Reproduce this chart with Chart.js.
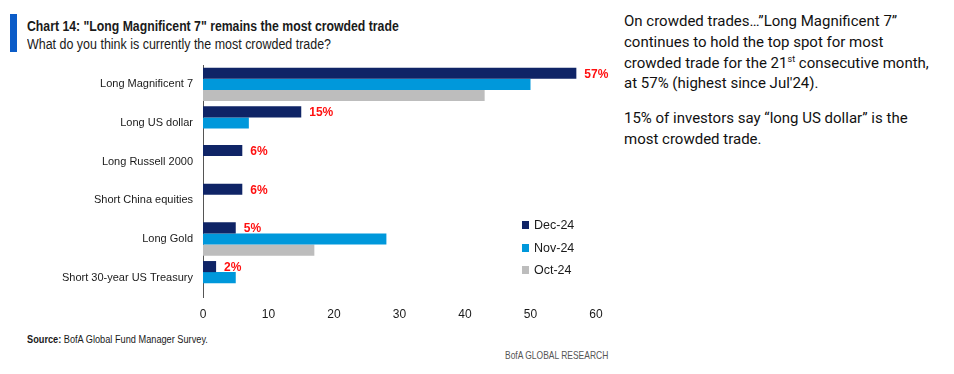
<!DOCTYPE html>
<html lang="en">
<head>
<meta charset="UTF-8">
<title>Long Magnificent 7 remains the most crowded trade</title>
<script src="https://cdn.jsdelivr.net/npm/chart.js"></script>
<style>
    body { margin: 0; background: #fff; }
    .page { position: relative; width: 954px; height: 374px; overflow: hidden;
            font-family: 'Liberation Sans', Arial, sans-serif; color: #1a1a1a; }
    .accent { position: absolute; left: 10px; top: 14px; width: 7px; height: 38px; background: #0b5cc8; }
    .squeeze { transform-origin: 0 0; white-space: nowrap; }
    .title { position: absolute; left: 27px; top: 18px; font-size: 14px; font-weight: bold; transform: scaleX(0.875); }
    .subtitle { position: absolute; left: 27px; top: 36px; font-size: 14px; transform: scaleX(0.89); }
    .chart-box { position: absolute; left: 0; top: 60px; width: 620px; height: 265px; }
    .legend { position: absolute; left: 522px; top: 214px; font-size: 12.5px; }
    .legend div { height: 22.5px; display: flex; align-items: center; }
    .legend span { display: inline-block; width: 7px; height: 8px; margin-right: 5px; }
    .source { position: absolute; left: 27px; top: 334px; font-size: 10px; transform: scaleX(0.92); }
    .brand { position: absolute; left: 505px; top: 349px; font-size: 11px; color: #555; transform: scaleX(0.77); }
    .notes { position: absolute; left: 624px; top: 11px; width: 330px; font-family: Roboto, sans-serif;
             font-size: 15px; line-height: 20.8px; color: #111; }
    .notes p { margin: 0 0 14px 0; }
    .notes sup { font-size: 9px; line-height: 0; vertical-align: 6px; }
</style>
</head>
<body>
<div class="page">
    <div class="accent"></div>
    <div class="title squeeze">Chart 14: "Long Magnificent 7" remains the most crowded trade</div>
    <div class="subtitle squeeze">What do you think is currently the most crowded trade?</div>
    <div class="chart-box"><canvas id="crowdedChart"></canvas></div>
    <div class="legend" id="legend"></div>
    <div class="source squeeze"><b>Source:</b> BofA Global Fund Manager Survey.</div>
    <div class="brand squeeze">BofA GLOBAL RESEARCH</div>
    <div class="notes">
        <p>On crowded trades…”Long Magnificent 7”<br>continues to hold the top spot for most<br>crowded trade for the 21<sup>st</sup> consecutive month,<br>at 57% (highest since Jul'24).</p>
        <p>15% of investors say “long US dollar” is the<br>most crowded trade.</p>
    </div>
</div>

<script>
const categories = ["Long Magnificent 7", "Long US dollar", "Long Russell 2000",
                    "Short China equities", "Long Gold", "Short 30-year US Treasury"];
const seriesNames = ["Dec-24", "Nov-24", "Oct-24"];
const dec24 = [57, 15, 6, 6, 5, 2];
const nov24 = [50, 7, null, null, 28, 5];
const oct24 = [43, null, null, null, 17, null];
const xTicks = [0, 10, 20, 30, 40, 50, 60];

const colors = ['#0f2466', '#0098db', '#bdbdbd'];
const fontFam = "'Liberation Sans', Arial, sans-serif";

// legend as html, vertical list at lower right of the plot
const legendEl = document.getElementById('legend');
seriesNames.forEach(function(name, i) {
    const row = document.createElement('div');
    row.innerHTML = '<span style="background:' + colors[i] + '"></span>' + name;
    legendEl.appendChild(row);
});

// red % labels next to the latest month
const latestLabels = {
    id: 'latestLabels',
    afterDatasetsDraw(chart) {
        const ctx = chart.ctx;
        const meta = chart.getDatasetMeta(0);
        ctx.save();
        ctx.fillStyle = '#ff1010';
        ctx.font = 'bold 12px ' + fontFam;
        ctx.textAlign = 'left';
        ctx.textBaseline = 'middle';
        meta.data.forEach(function(bar, i) {
            ctx.fillText(dec24[i] + '%', bar.x + 8, bar.y + 1);
        });
        ctx.restore();
    }
};

new Chart(document.getElementById('crowdedChart'), {
    type: 'bar',
    data: {
        labels: categories,
        datasets: [
            { label: seriesNames[0], data: dec24, backgroundColor: colors[0] },
            { label: seriesNames[1], data: nov24, backgroundColor: colors[1] },
            { label: seriesNames[2], data: oct24, backgroundColor: colors[2] }
        ]
    },
    options: {
        indexAxis: 'y',
        responsive: true,
        maintainAspectRatio: false,
        animation: false,
        barPercentage: 1.0,
        categoryPercentage: 0.86,
        layout: { padding: { left: 0, right: 24, top: 5, bottom: 0 } },
        scales: {
            y: {
                grid: { drawOnChartArea: false, drawTicks: false },
                border: { display: true, color: '#555', width: 1 },
                ticks: { color: '#1a1a1a', padding: 10, font: { family: fontFam, size: 11 } },
                afterFit: function(scale) {
                    scale.width = 203;
                    scale.paddingTop = 0;
                    scale.paddingBottom = 0;
                }
            },
            x: {
                min: 0, max: 60,
                afterBuildTicks: function(scale) { scale.ticks = xTicks.map(v => ({ value: v })); },
                grid: { display: false },
                border: { display: false },
                ticks: { color: '#1a1a1a', padding: 2, font: { family: fontFam, size: 12 } },
                afterFit: function(scale) { scale.height = 28; }
            }
        },
        plugins: {
            legend: { display: false },
            tooltip: { enabled: false }
        }
    },
    plugins: [latestLabels]
});
</script>
</body>
</html>
